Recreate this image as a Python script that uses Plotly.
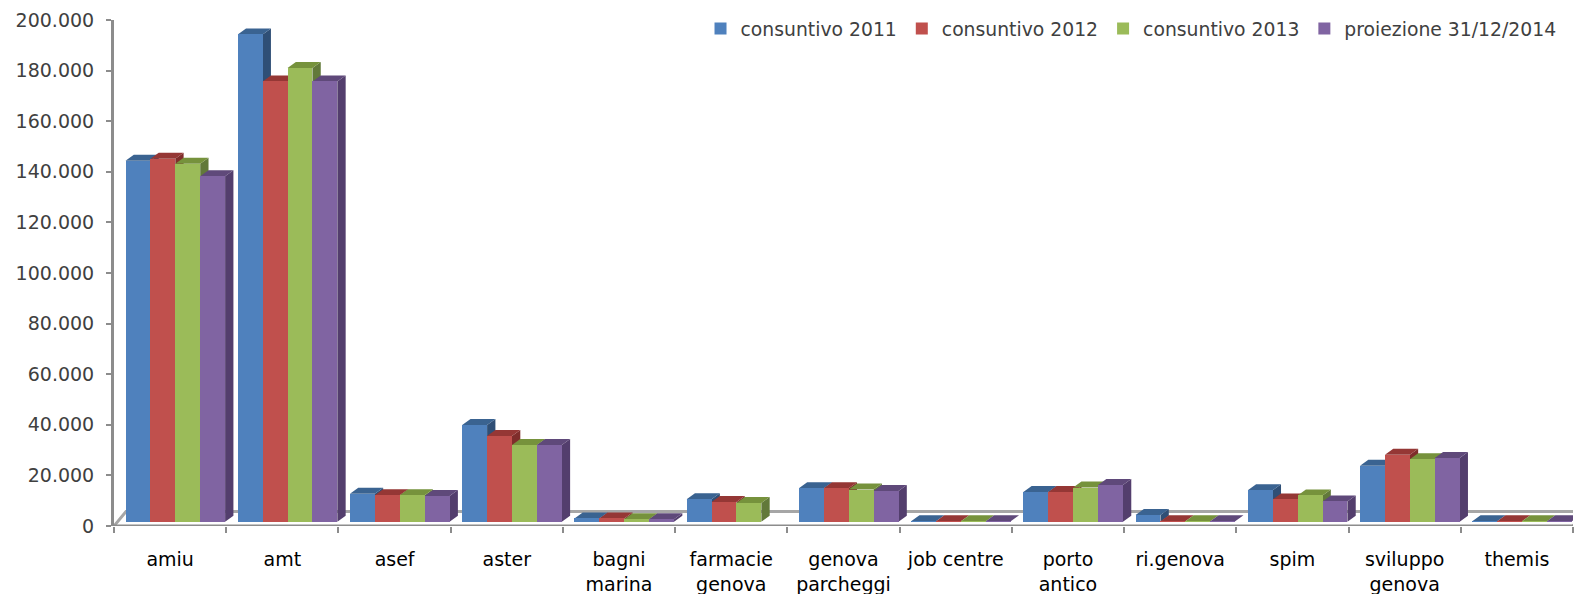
import plotly.graph_objects as go

categories = ["amiu", "amt", "asef", "aster", "bagni<br>marina", "farmacie<br>genova",
              "genova<br>parcheggi", "job centre", "porto<br>antico", "ri.genova",
              "spim", "sviluppo<br>genova", "themis"]
series_names = ["consuntivo 2011", "consuntivo 2012", "consuntivo 2013", "proiezione 31/12/2014"]
consuntivo_2011 = [142700, 192600, 11000, 38200, 1300, 8900, 13200, 200, 11700, 2600, 12400, 22100, 200]
consuntivo_2012 = [143500, 174000, 10500, 33900, 1300, 7800, 13200, 200, 11700, 200, 8800, 26500, 200]
consuntivo_2013 = [141500, 179300, 10500, 30300, 1000, 7400, 12700, 200, 13500, 200, 10400, 24700, 200]
proiezione_2014 = [136500, 174000, 10200, 30300, 1000, 0, 12100, 200, 14500, 200, 8000, 25200, 200]
series_values = [consuntivo_2011, consuntivo_2012, consuntivo_2013, proiezione_2014]
front_colors = ["#4F81BD", "#C0504D", "#9BBB59", "#8064A2"]
top_colors = ["#3A6391", "#953735", "#76923C", "#5F497A"]
side_colors = ["#2F4F76", "#7F2D2B", "#62793A", "#533E6D"]
y_ticks = [0, 20000, 40000, 60000, 80000, 100000, 120000, 140000, 160000, 180000, 200000]
y_labels = ["0", "20.000", "40.000", "60.000", "80.000", "100.000", "120.000", "140.000",
            "160.000", "180.000", "200.000"]

# px geometry of the plot area
LEFT, RIGHT, TOP, BOTTOM = 114, 1572.7, 20, 526
W, H = 1583, 594
cat_px = (RIGHT - LEFT) / len(categories)
val_px = (BOTTOM - TOP) / 200000
bar_w = 24.9 / cat_px
group_start = 11.5 / cat_px - 0.5
dx = 8.3 / cat_px
dy = 6 / val_px
floor_base = 4.3 / val_px
back_y = 14.5 / val_px
back_dx_l = 12 / cat_px
back_dx_r = 10.3 / cat_px
xr = [-0.5, len(categories) - 0.5]
yr = [0, 200000]
pos = list(range(len(categories)))

fig = go.Figure()

# floor back line with the side diagonals, behind everything
fig.add_trace(go.Scatter(
    x=[xr[0], xr[0] + back_dx_l, xr[1] + back_dx_r, xr[1]],
    y=[0, back_y, back_y, 0], mode="lines", line=dict(color="#A6A6A6", width=3),
    showlegend=False, hoverinfo="skip", cliponaxis=False))

layout_axes = {}
ax_n = 2
for s, vals in enumerate(series_values):
    tops_x, tops_y, sides_x, sides_y = [], [], [], []
    for i, v in zip(pos, vals):
        if s == 3 and v == 0:
            continue
        l = i + group_start + s * bar_w
        r = l + bar_w
        t = floor_base + v
        tops_x += [l, r, r + dx, l + dx, l, None]
        tops_y += [t, t, t + dy, t + dy, t, None]
        sides_x += [r, r + dx, r + dx, r, r, None]
        sides_y += [floor_base, floor_base + dy, t + dy, t, floor_base, None]
    depth_axis = f"y{ax_n}"
    fig.add_trace(go.Scatter(x=sides_x, y=sides_y, mode="lines", fill="toself",
                             fillcolor=side_colors[s], line=dict(width=0, color=side_colors[s]),
                             showlegend=False, hoverinfo="skip", cliponaxis=False, yaxis=depth_axis))
    fig.add_trace(go.Scatter(x=tops_x, y=tops_y, mode="lines", fill="toself",
                             fillcolor=top_colors[s], line=dict(width=0, color=top_colors[s]),
                             showlegend=False, hoverinfo="skip", cliponaxis=False, yaxis=depth_axis))
    bar_axis = f"y{ax_n + 1}"
    fig.add_trace(go.Bar(x=pos, y=vals, base=floor_base, name=series_names[s],
                         width=bar_w, offset=group_start + s * bar_w,
                         marker=dict(color=front_colors[s], line=dict(width=0)),
                         yaxis=bar_axis))
    for n in (ax_n, ax_n + 1):
        layout_axes[f"yaxis{n}"] = dict(overlaying="y", range=yr, visible=False, fixedrange=True)
    ax_n += 2

# floor front line with boundary tick marks, on the second x axis
fig.add_trace(go.Scatter(x=xr, y=[0, 0], xaxis="x2", mode="lines",
                         line=dict(color="#8C8C8C", width=3), showlegend=False,
                         hoverinfo="skip", cliponaxis=False))

fig.update_layout(
    width=W, height=H, paper_bgcolor="white", plot_bgcolor="white",
    margin=dict(l=LEFT, r=W - RIGHT, t=TOP, b=H - BOTTOM, pad=0, autoexpand=False),
    bargap=0, showlegend=True,
    xaxis=dict(range=xr, tickvals=pos, ticktext=categories, ticks="", showgrid=False,
               zeroline=False, showline=False, ticklabelstandoff=20, fixedrange=True,
               tickfont=dict(family="DejaVu Sans", size=19, color="#000000")),
    xaxis2=dict(range=xr, overlaying="x", anchor="y", side="bottom",
                tickvals=[p - 0.5 for p in pos] + [xr[1]], showticklabels=False,
                ticks="outside", ticklen=6, tickwidth=2, tickcolor="#8C8C8C",
                showgrid=False, zeroline=False, showline=False, fixedrange=True),
    yaxis=dict(range=yr, tickvals=y_ticks, ticktext=y_labels, ticks="outside", ticklen=5,
               tickwidth=2, tickcolor="#8C8C8C", showline=True, linecolor="#8C8C8C",
               linewidth=3, showgrid=False, zeroline=False, fixedrange=True, ticklabelstandoff=8,
               tickfont=dict(family="DejaVu Sans", size=19, color="#404040")),
    legend=dict(orientation="h", x=0.402, xanchor="left", y=1.02, yanchor="top",
                itemclick=False, itemdoubleclick=False,
                bgcolor="rgba(0,0,0,0)", font=dict(family="DejaVu Sans", size=18.8, color="#404040")),
    **layout_axes,
)

fig.write_html("out.html", config={"displayModeBar": False},
               post_script="document.body.style.margin='0';")
